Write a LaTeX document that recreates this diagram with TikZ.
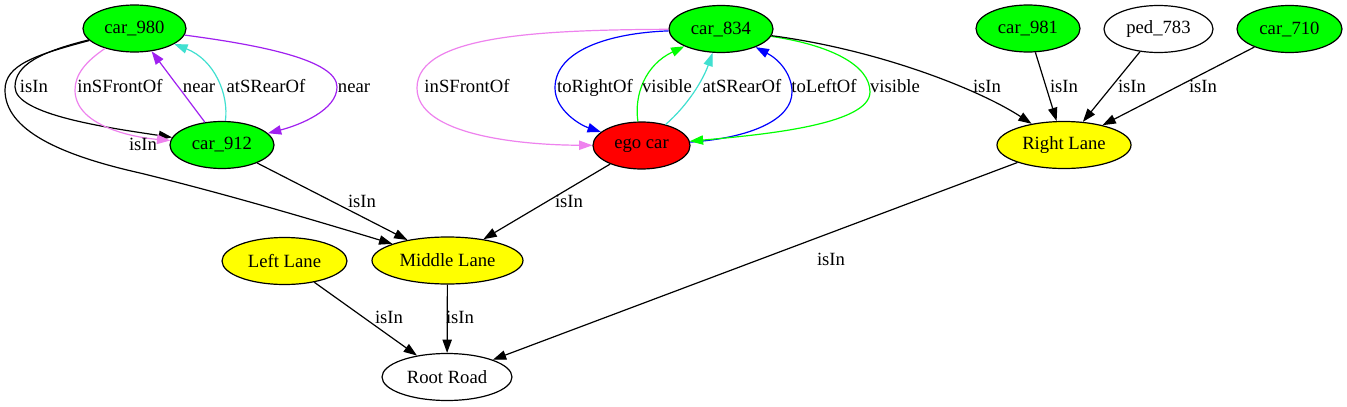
\documentclass[tikz,border=0pt]{standalone}
\usepackage{fontspec}
\setmainfont{Liberation Serif}
\usetikzlibrary{shapes.geometric,arrows.meta}
\definecolor{gvgreen}{HTML}{00FF00}
\definecolor{gvred}{HTML}{FF0000}
\definecolor{gvyellow}{HTML}{FFFF00}
\definecolor{gvviolet}{HTML}{EE82EE}
\definecolor{gvpurple}{HTML}{A020F0}
\definecolor{gvturq}{HTML}{40E0D0}
\definecolor{gvblue}{HTML}{0000FF}
\begin{document}
\begin{tikzpicture}[x=0.75pt,y=-0.75pt,
  ent/.style={ellipse,draw=black,line width=0.9pt,inner sep=0pt,minimum height=35.25pt,font=\fontsize{14pt}{16pt}\selectfont},
  car/.style={ent,fill=gvgreen},
  lane/.style={ent,fill=gvyellow},
  edge/.style={line width=0.9pt,-{Triangle[length=10pt,width=7pt]}},
  lbl/.style={anchor=base,inner sep=0pt,font=\fontsize{14pt}{16pt}\selectfont}]
\useasboundingbox[fill=white] (0,0) rectangle (1347,407);

% nodes
\node[car,minimum width=77.25pt] (c980) at (134.5,28.5) {car\_980};
\node[car,minimum width=78pt] (c912) at (222,145) {car\_912};
\node[car,minimum width=78pt] (c834) at (721,29) {car\_834};
\node[ent,fill=gvred,minimum width=72.75pt] (ego) at (641.5,145.5) {ego car};
\node[car,minimum width=78pt] (c981) at (1028,28.5) {car\_981};
\node[ent,fill=white,minimum width=81.75pt] (ped) at (1158.5,29) {ped\_783};
\node[car,minimum width=78.75pt] (c710) at (1289.5,29) {car\_710};
\node[lane,minimum width=100.5pt] (rl) at (1064,145) {Right Lane};
\node[lane,minimum width=93.75pt] (ll) at (284.5,261) {Left Lane};
\node[lane,minimum width=113.25pt] (ml) at (447.5,260.5) {Middle Lane};
\node[ent,fill=white,minimum width=97.5pt] (rr) at (447,377) {Root Road};

% car_980 edges
\draw[edge] (c980) .. controls (40,52) and (15,65) .. (15,87) .. controls (15,115) and (110,128) .. (c912);
\draw[edge] (c980) .. controls (35,55) and (5,65) .. (5,90) .. controls (5,130) and (60,155) .. (140,173) .. controls (230,195) and (320,222) .. (ml);
\draw[edge,gvviolet] (c980) .. controls (85,62) and (75,75) .. (75,90) .. controls (75,125) and (130,137) .. (c912);
\draw[edge,gvpurple] (c912) -- (c980);
\draw[edge,gvturq] (c912) .. controls (229,95) and (215,60) .. (c980);
\draw[edge,gvpurple] (c980) .. controls (260,45) and (337,60) .. (337,87) .. controls (337,110) and (300,125) .. (c912);
\draw[edge] (c912) -- (ml);

% car_834 / ego edges
\draw[edge,gvviolet] (c834) .. controls (540,30) and (417,35) .. (417,88) .. controls (417,135) and (520,145) .. (ego);
\draw[edge,gvblue] (c834) .. controls (610,33) and (555,50) .. (555,88) .. controls (555,110) and (580,125) .. (ego);
\draw[edge,gvgreen] (ego) .. controls (634,95) and (645,65) .. (c834);
\draw[edge,gvturq] (ego) .. controls (688,105) and (703,80) .. (c834);
\draw[edge,gvblue] (ego) .. controls (750,138) and (792,120) .. (792,92) .. controls (792,75) and (780,60) .. (c834);
\draw[edge,gvgreen] (c834) .. controls (830,45) and (870,65) .. (870,92) .. controls (870,125) and (760,135) .. (ego);
\draw[edge] (c834) .. controls (880,50) and (980,90) .. (rl);
\draw[edge] (ego) -- (ml);

% right lane edges
\draw[edge] (c981) -- (rl);
\draw[edge] (ped) -- (rl);
\draw[edge] (c710) -- (rl);
\draw[edge] (rl) -- (rr);
\draw[edge] (ll) -- (rr);
\draw[edge] (ml) -- (rr);

% labels
\node[lbl] (t1) at (34,92) {isIn};
\node[lbl] (t2) at (120,92) {inSFrontOf};
\node[lbl] (t3) at (199,92) {near};
\node[lbl] (t4) at (266,92) {atSRearOf};
\node[lbl] (t5) at (354,92) {near};
\node[lbl] (t6) at (143,150) {isIn};
\node[lbl] (t7) at (362,207) {isIn};
\node[lbl] (t8) at (467,92) {inSFrontOf};
\node[lbl] (t9) at (595,92) {toRightOf};
\node[lbl] (t10) at (667,92) {visible};
\node[lbl] (t11) at (742,92) {atSRearOf};
\node[lbl] (t12) at (824,92) {toLeftOf};
\node[lbl] (t13) at (895,92) {visible};
\node[lbl] (t14) at (987,92) {isIn};
\node[lbl] (t15) at (1064,92) {isIn};
\node[lbl] (t16) at (1132,92) {isIn};
\node[lbl] (t17) at (1203,92) {isIn};
\node[lbl] (t18) at (569,207) {isIn};
\node[lbl] (t19) at (831,265) {isIn};
\node[lbl] (t20) at (389,323) {isIn};
\node[lbl] (t21) at (460,323) {isIn};
\end{tikzpicture}
\end{document}
